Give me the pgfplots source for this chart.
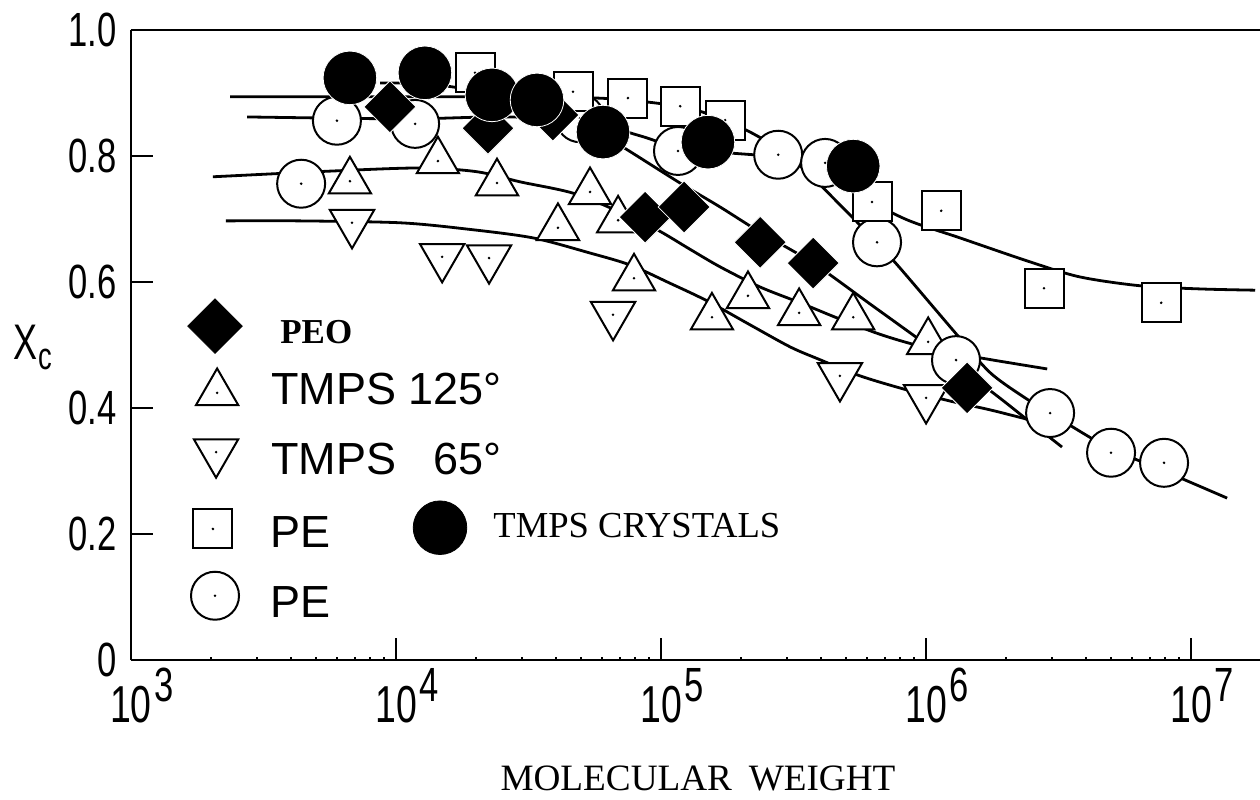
\documentclass[border=0pt]{standalone}
\usepackage{fontspec}
\usepackage{pgfplots}
\usepackage{pgfplotstable}
\pgfplotsset{compat=1.18}
\setmainfont{Liberation Serif}
\newfontfamily\tickfont[FakeStretch=0.72]{Liberation Sans}
\newfontfamily\legfont{Liberation Sans}

\pgfdeclareplotmark{ocirc}{%
  \pgfpathcircle{\pgfpointorigin}{\pgfplotmarksize}\pgfusepathqfillstroke
  \begin{pgfscope}\pgfsetfillcolor{black}\pgfpathcircle{\pgfpointorigin}{0.7pt}\pgfusepathqfill\end{pgfscope}}
\pgfdeclareplotmark{osq}{%
  \pgfpathrectangle{\pgfpoint{-\pgfplotmarksize}{-\pgfplotmarksize}}{\pgfpoint{2\pgfplotmarksize}{2\pgfplotmarksize}}\pgfusepathqfillstroke
  \begin{pgfscope}\pgfsetfillcolor{black}\pgfpathcircle{\pgfpointorigin}{0.7pt}\pgfusepathqfill\end{pgfscope}}
\pgfdeclareplotmark{otriu}{%
  \pgfpathmoveto{\pgfpointpolar{90}{\pgfplotmarksize}}%
  \pgfpathlineto{\pgfpointpolar{210}{\pgfplotmarksize}}%
  \pgfpathlineto{\pgfpointpolar{330}{\pgfplotmarksize}}%
  \pgfpathclose\pgfusepathqfillstroke
  \begin{pgfscope}\pgfsetfillcolor{black}\pgfpathcircle{\pgfpointorigin}{0.7pt}\pgfusepathqfill\end{pgfscope}}
\pgfdeclareplotmark{otrid}{%
  \pgfpathmoveto{\pgfpointpolar{270}{\pgfplotmarksize}}%
  \pgfpathlineto{\pgfpointpolar{30}{\pgfplotmarksize}}%
  \pgfpathlineto{\pgfpointpolar{150}{\pgfplotmarksize}}%
  \pgfpathclose\pgfusepathqfillstroke
  \begin{pgfscope}\pgfsetfillcolor{black}\pgfpathcircle{\pgfpointorigin}{0.7pt}\pgfusepathqfill\end{pgfscope}}
\pgfdeclareplotmark{fdiam}{%
  \pgfpathmoveto{\pgfqpoint{0pt}{\pgfplotmarksize}}%
  \pgfpathlineto{\pgfqpoint{\pgfplotmarksize}{0pt}}%
  \pgfpathlineto{\pgfqpoint{0pt}{-\pgfplotmarksize}}%
  \pgfpathlineto{\pgfqpoint{-\pgfplotmarksize}{0pt}}%
  \pgfpathclose\pgfusepathqfillstroke}

\newcommand\xl[1]{\tickfont\fontsize{26}{26}\selectfont\hphantom{\kern1.5pt\fontsize{24}{24}\selectfont#1}10\kern1.5pt\raisebox{10.5pt}{\fontsize{24}{24}\selectfont#1}}

% x = log10(molecular weight), y = Xc
\pgfplotstableread{
x y
3.374 0.894
3.826 0.894
4.204 0.894
4.581 0.894
4.845 0.890
5.072 0.879
5.147 0.871
5.242 0.857
5.336 0.838
5.430 0.816
5.525 0.794
5.713 0.746
5.921 0.700
6.128 0.670
6.392 0.632
6.581 0.608
6.808 0.594
7.034 0.589
7.242 0.587
}\curveA
\pgfplotstableread{
x y
3.438 0.862
3.777 0.860
4.072 0.859
4.392 0.862
4.694 0.857
4.921 0.832
5.064 0.813
5.223 0.806
5.442 0.798
5.525 0.784
5.721 0.703
5.815 0.662
5.902 0.622
6.117 0.516
6.242 0.456
6.381 0.414
6.468 0.392
6.608 0.356
6.698 0.335
6.898 0.300
7.136 0.257
}\curveB
\pgfplotstableread{
x y
3.940 0.916
4.128 0.914
4.317 0.902
4.543 0.876
4.781 0.833
4.872 0.810
5.072 0.757
5.223 0.719
5.374 0.679
5.574 0.630
5.789 0.565
5.977 0.508
6.117 0.465
6.253 0.424
6.392 0.378
6.513 0.338
}\curveC
\pgfplotstableread{
x y
3.309 0.767
3.751 0.776
4.091 0.781
4.306 0.775
4.468 0.759
4.668 0.741
4.845 0.711
4.985 0.683
5.113 0.651
5.223 0.624
5.374 0.592
5.525 0.567
5.664 0.543
5.826 0.517
5.981 0.498
6.185 0.481
6.457 0.462
}\curveD
\pgfplotstableread{
x y
3.358 0.697
3.638 0.697
4.015 0.694
4.268 0.684
4.517 0.670
4.732 0.646
4.883 0.627
5.034 0.598
5.174 0.570
5.336 0.532
5.487 0.497
5.592 0.478
5.751 0.451
5.925 0.429
6.091 0.411
6.242 0.397
6.392 0.381
}\curveE

\pgfplotstableread{
x y
3.977 0.878
4.347 0.844
4.592 0.865
4.940 0.703
5.087 0.719
5.374 0.663
5.574 0.630
6.155 0.432
}\peo
\pgfplotstableread{
x y
3.826 0.924
4.109 0.932
4.362 0.897
4.532 0.889
4.781 0.838
5.177 0.822
5.725 0.784
}\crys
\pgfplotstableread{
x y
4.298 0.932
4.668 0.902
4.875 0.892
5.072 0.879
5.242 0.857
5.796 0.727
6.057 0.713
6.445 0.590
6.887 0.567
}\pesq
\pgfplotstableread{
x y
3.642 0.756
3.777 0.856
4.072 0.851
4.694 0.860
5.064 0.808
5.442 0.802
5.619 0.789
5.815 0.663
6.113 0.476
6.468 0.392
6.698 0.329
6.898 0.313
}\pecirc
\pgfplotstableread{
x y
3.826 0.760
4.158 0.792
4.381 0.757
4.732 0.743
4.611 0.686
4.838 0.698
4.898 0.606
5.192 0.544
5.328 0.578
5.521 0.551
5.725 0.544
6.008 0.505
}\tmpsA
\pgfplotstableread{
x y
3.834 0.694
4.174 0.640
4.351 0.638
4.819 0.548
5.675 0.451
6.000 0.416
}\tmpsB

\begin{document}
\begin{tikzpicture}
\begin{axis}[
  at={(0,0)}, anchor=south west,
  scale only axis, width=564.5pt, height=315pt,
  xmin=3, xmax=7.26, ymin=0, ymax=1,
  axis lines*=left,
  x axis line style={-}, y axis line style={-},
  axis line style={line width=1.3pt},
  tick align=inside,
  major tick length=11pt, minor tick length=1.5pt,
  tick style={line width=1pt, black},
  xtick={3,4,5,6,7},
  xticklabels={\xl{3},\xl{4},\xl{5},\xl{6},\xl{7}},
  minor xtick={3.301,3.477,3.602,3.699,3.778,3.845,3.903,3.954,
               4.301,4.477,4.602,4.699,4.778,4.845,4.903,4.954,
               5.301,5.477,5.602,5.699,5.778,5.845,5.903,5.954,
               6.301,6.477,6.602,6.699,6.778,6.845,6.903,6.954},
  ytick={0,0.2,0.4,0.6,0.8,1.0},
  yticklabels={0,0.2,0.4,0.6,0.8,1.0},
  xticklabel style={anchor=north, inner sep=0pt, yshift=-4pt},
  yticklabel style={anchor=east, inner sep=0pt, xshift=-7pt,
                    font=\tickfont\fontsize{24}{24}\selectfont},
  clip=false,
  curve/.style={line width=1.4pt, black, no marks, smooth, tension=0.5},
]
\draw[line width=1.3pt] (rel axis cs:0,1) -- (rel axis cs:1,1);

\addplot[curve] table {\curveA};
\addplot[curve] table {\curveB};
\addplot[curve] table {\curveC};
\addplot[curve] table {\curveD};
\addplot[curve] table {\curveE};

\addplot[only marks, mark=otriu, mark size=12.2pt,
  mark options={fill=white, draw=black, line width=1pt}] table {\tmpsA};
\addplot[only marks, mark=otrid, mark size=12.8pt,
  mark options={fill=white, draw=black, line width=1pt}] table {\tmpsB};
\addplot[only marks, mark=ocirc, mark size=12pt,
  mark options={fill=white, draw=black, line width=1pt}] table {\pecirc};
\addplot[only marks, mark=osq, mark size=9.75pt,
  mark options={fill=white, draw=black, line width=1pt}] table {\pesq};
\addplot[only marks, mark=fdiam, mark size=13pt,
  mark options={fill=black, draw=white, line width=0.4pt}] table {\peo};
\addplot[only marks, mark=*, mark size=13.4pt,
  mark options={fill=black, draw=white, line width=0.4pt}] table {\crys};

% legend symbols
\addplot[forget plot, only marks, mark=fdiam, mark size=13.7pt,
  mark options={fill=black, draw=black, line width=0.3pt}] coordinates {(3.317,0.530)};
\addplot[forget plot, only marks, mark=otriu, mark size=12.2pt,
  mark options={fill=white, draw=black, line width=1pt}] coordinates {(3.325,0.424)};
\addplot[forget plot, only marks, mark=otrid, mark size=12.8pt,
  mark options={fill=white, draw=black, line width=1pt}] coordinates {(3.321,0.330)};
\addplot[forget plot, only marks, mark=osq, mark size=9.75pt,
  mark options={fill=white, draw=black, line width=1pt}] coordinates {(3.309,0.208)};
\addplot[forget plot, only marks, mark=ocirc, mark size=12pt,
  mark options={fill=white, draw=black, line width=1pt}] coordinates {(3.317,0.102)};
\addplot[forget plot, only marks, mark=*, mark size=13.4pt,
  mark options={fill=black, draw=black}] coordinates {(4.166,0.210)};

\node[anchor=base west, inner sep=0pt, font=\bfseries\fontsize{17.5}{17.5}\selectfont] at (axis cs:3.562,0.503) {PEO};
\node[anchor=base west, inner sep=0pt, font=\legfont\fontsize{22.5}{22.5}\selectfont] at (axis cs:3.528,0.406) {TMPS 125°};
\node[anchor=base west, inner sep=0pt, font=\legfont\fontsize{22.5}{22.5}\selectfont] at (axis cs:3.528,0.294) {TMPS \hphantom{1}65°};
\node[anchor=base west, inner sep=0pt, font=\legfont\fontsize{22.5}{22.5}\selectfont] at (axis cs:3.525,0.179) {PE};
\node[anchor=base west, inner sep=0pt, font=\legfont\fontsize{22.5}{22.5}\selectfont] at (axis cs:3.525,0.067) {PE};
\node[anchor=base west, inner sep=0pt, font=\fontsize{18.3}{18.3}\selectfont] at (axis cs:4.366,0.194) {TMPS CRYSTALS};
\end{axis}
\node[anchor=base west, inner sep=0pt] at (-59pt,150pt)
  {\tickfont\fontsize{25}{25}\selectfont X\kern0.5pt\raisebox{-5pt}{\fontsize{19}{19}\selectfont c}};
\node[anchor=base, inner sep=0pt, font=\fontsize{18.6}{18.6}\selectfont] at (283.5pt,-65pt) {MOLECULAR\hspace{0.45em}WEIGHT};
\pgfresetboundingbox
\path[use as bounding box] (-65.5pt,-69.5pt) rectangle (564.5pt,330pt);
\end{tikzpicture}
\end{document}
